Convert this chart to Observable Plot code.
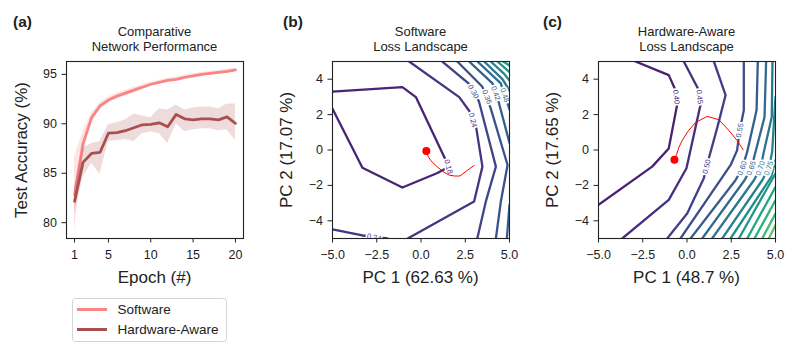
<!DOCTYPE html>
<html><head><meta charset="utf-8">
<script src="https://cdn.jsdelivr.net/npm/d3@7"></script>
<script src="https://cdn.jsdelivr.net/npm/@observablehq/plot@0.6"></script>
<style>
body{margin:0;background:#fff;}
#root{position:relative;width:797px;height:355px;overflow:hidden;background:#fff;font-family:"Liberation Sans",Arial,sans-serif;}
#root > svg{position:absolute;top:0;}
</style></head><body><div id="root"></div>
<script>
// ---------- data ----------
const epochs = [1,2,3,4,5,6,7,8,9,10,11,12,13,14,15,16,17,18,19,20];
const softwareAcc  = [82.8,88.0,90.6,91.8,92.4,92.8,93.1,93.4,93.7,94.0,94.2,94.4,94.5,94.7,94.85,95.0,95.1,95.2,95.3,95.45];
const softwareLow  = [79.0,86.8,90.1,91.5,92.1,92.5,92.8,93.1,93.45,93.8,94.0,94.2,94.3,94.5,94.65,94.8,94.9,95.0,95.1,95.25];
const softwareHigh = [86.7,89.2,91.1,92.1,92.7,93.1,93.4,93.7,93.95,94.2,94.4,94.6,94.7,94.9,95.05,95.2,95.3,95.4,95.5,95.65];
const hardwareAcc  = [82.15,86.1,87.0,87.1,89.05,89.1,89.3,89.6,89.9,89.95,90.1,89.7,90.95,90.5,90.4,90.5,90.5,90.4,90.7,90.05];
const hardwareLow  = [80.9,84.6,86.0,84.9,88.2,88.3,88.4,88.2,89.0,89.2,89.0,88.0,90.0,89.2,89.4,89.5,89.5,89.3,89.4,88.3];
const hardwareHigh = [83.6,87.5,88.0,88.2,89.9,90.1,90.4,91.0,90.8,90.6,91.5,91.4,91.9,91.4,91.6,91.7,91.7,91.5,92.0,92.0];

const seriesNames  = ["Software", "Hardware-Aware"];
const seriesColors = ["#f98585", "#a85050"];

const panelLetters = ["(a)", "(b)", "(c)"];
const panelTitles  = [["Comparative","Network Performance"],["Software","Loss Landscape"],["Hardware-Aware","Loss Landscape"]];
const xLabels = ["Epoch (#)", "PC 1 (62.63 %)", "PC 1 (48.7 %)"];
const yLabels = ["Test Accuracy (%)", "PC 2 (17.07 %)", "PC 2 (17.65 %)"];

const epochTicks = [1,5,10,15,20];
const accTicks   = [80,85,90,95];
const pcTicksX   = [-5,-2.5,0,2.5,5];
const pcTicksY   = [-4,-2,0,2,4];

// contour polylines (PC1, PC2)
const swContours = [
  {level:0.18, path:[[-5,3.30],[-1.05,3.55],[-0.29,2.99],[1.40,-0.58],[1.55,-0.96],[0.93,-1.30],[-1.05,-2.12],[-3.31,-1.0],[-5,2.33]]},
  {level:0.24, path:[[-0.67,5],[2.16,2.99],[2.72,2.22],[3.12,1.25],[3.47,-0.94],[3.0,-2.91],[-0.75,-5]]},
  {level:0.24, path:[[-5,-4.49],[-3.31,-4.83],[-1.9,-5]]},
  {level:0.30, path:[[1.2,5],[2.72,3.74],[3.28,2.73],[4.23,-0.94],[3.66,-2.92],[3.18,-5]]},
  {level:0.36, path:[[2.05,5],[3.47,3.57],[3.94,2.35],[4.89,-0.85],[4.51,-2.92],[4.23,-5]]},
  {level:0.42, path:[[2.72,5],[4.04,3.76],[4.41,2.63],[5,0.4]]},
  {level:0.42, path:[[5,-3.1],[4.85,-5]]},
  {level:0.48, path:[[3.19,5],[4.51,3.76],[5,2.3]]},
  {level:0.54, path:[[3.57,5],[4.6,4.0],[5,3.36]]},
  {level:0.60, path:[[3.94,5],[4.7,4.3],[5,3.92]]},
  {level:0.66, path:[[4.32,5],[5,4.40]]},
  {level:0.72, path:[[4.64,5],[5,4.78]]}
];
const swContourLabels = [
  {level:0.18, x:1.55, y:-0.94, angle:75},
  {level:0.24, x:2.93, y:1.69, angle:76},
  {level:0.30, x:2.96, y:3.30, angle:62},
  {level:0.36, x:3.72, y:3.00, angle:68},
  {level:0.42, x:4.22, y:3.20, angle:70},
  {level:0.48, x:4.73, y:3.10, angle:72},
  {level:0.24, x:-2.65, y:-4.94, angle:12}
];
const hwContours = [
  {level:0.40, path:[[-2.91,5],[-1.03,4.23],[-0.65,3.38],[-0.56,2.54],[-1.03,0.09],[-1.97,-0.94],[-5,-3.10]]},
  {level:0.45, path:[[-0.18,5],[0.67,3.38],[0.76,2.54],[-0.03,-1.03],[-1.03,-2.82],[-3.66,-5]]},
  {level:0.50, path:[[1.52,5],[2.18,3.10],[1.70,1.22],[1.23,-0.47],[0.95,-1.60],[0.01,-3.59],[-1.12,-5]]},
  {level:0.55, path:[[3.21,5],[3.21,2.24],[2.98,1.11],[2.83,-0.02],[2.46,-0.86],[-0.37,-5]]},
  {level:0.60, path:[[4.0,5],[3.93,2.24],[3.40,-0.11],[3.12,-1.03],[2.74,-1.71],[0.20,-5]]},
  {level:0.65, path:[[4.47,5],[4.38,1.86],[3.87,-0.11],[3.63,-1.03],[3.25,-1.71],[0.86,-5]]},
  {level:0.70, path:[[4.83,5],[4.79,1.86],[4.34,-0.11],[4.15,-1.03],[3.78,-1.71],[1.42,-5]]},
  {level:0.75, path:[[5,2.99],[4.81,-0.11],[4.62,-1.03],[4.25,-1.71],[1.99,-5]]},
  {level:0.80, path:[[5,-0.58],[4.76,-1.52],[2.46,-5]]},
  {level:0.85, path:[[5,-1.33],[2.93,-5]]},
  {level:0.90, path:[[5,-2.09],[3.40,-5]]},
  {level:0.95, path:[[5,-2.84],[3.81,-5]]},
  {level:1.00, path:[[5,-3.59],[4.25,-5]]},
  {level:1.05, path:[[5,-4.25],[4.62,-5]]}
];
const hwContourLabels = [
  {level:0.40, x:-0.61, y:3.0, angle:84},
  {level:0.45, x:0.71, y:3.0, angle:84},
  {level:0.50, x:1.11, y:-0.94, angle:-76},
  {level:0.55, x:2.98, y:1.11, angle:-80},
  {level:0.60, x:3.12, y:-1.03, angle:-70},
  {level:0.65, x:3.63, y:-1.03, angle:-70},
  {level:0.70, x:4.15, y:-1.03, angle:-70},
  {level:0.75, x:4.62, y:-1.03, angle:-70}
];
const swTrajectory = [[0.3,-0.06],[0.37,-0.3],[0.55,-0.6],[0.93,-0.96],[1.25,-1.22],[1.59,-1.42],[1.9,-1.47],[2.2,-1.47],[2.55,-1.2],[3.0,-0.87]];
const hwTrajectory = [[-0.71,-0.55],[-0.59,-0.25],[-0.45,0.17],[-0.27,0.54],[0.05,1.05],[0.48,1.55],[1.14,1.90],[1.80,1.71],[2.36,1.11],[2.83,0.54],[3.17,0.02]];

// ---------- helpers ----------
const FONT = "'Liberation Sans', Arial, sans-serif";
const INK = "#222";
const root = document.getElementById("root");
const place = (svg, left) => { svg.style.left = left + "px"; root.appendChild(svg); };
const baseStyle = {fontFamily: FONT, background: "transparent", overflow: "visible", color: INK};

function rowsOf(contours) {
  const rows = [];
  contours.forEach((c, i) => c.path.forEach(([x, y]) => rows.push({id: i, level: c.level, x, y})));
  return rows;
}
const trajRows = t => t.map(([x, y]) => ({x, y}));

// ---------- panel (a) ----------
const swRows = epochs.map((e, i) => ({e, m: softwareAcc[i], lo: softwareLow[i], hi: softwareHigh[i]}));
const hwRows = epochs.map((e, i) => ({e, m: hardwareAcc[i], lo: hardwareLow[i], hi: hardwareHigh[i]}));

const plotA = Plot.plot({
  width: 265, height: 300,
  marginLeft: 66, marginRight: 22, marginTop: 61, marginBottom: 62,
  style: baseStyle,
  x: {domain: [0.05, 20.95]},
  y: {domain: [78.4, 96.3]},
  marks: [
    Plot.areaY(swRows, {x: "e", y1: "lo", y2: "hi", fill: seriesColors[0], fillOpacity: 0.22}),
    Plot.line(swRows, {x: "e", y: "m", stroke: seriesColors[0], strokeWidth: 2.8}),
    Plot.areaY(hwRows, {x: "e", y1: "lo", y2: "hi", fill: seriesColors[1], fillOpacity: 0.2}),
    Plot.line(hwRows, {x: "e", y: "m", stroke: seriesColors[1], strokeWidth: 2.8}),
    Plot.axisX({ticks: epochTicks, tickFormat: d3.format("d"), tickSize: 4.5, tickPadding: 7, fontSize: 12.5, label: null, stroke: INK}),
    Plot.axisY({ticks: accTicks, tickFormat: d3.format("d"), tickSize: 4.5, tickPadding: 5, fontSize: 12.5, label: null, stroke: INK}),
    Plot.frame({stroke: INK, strokeWidth: 1.1})
  ]
});
place(plotA, 0);

// ---------- panels (b), (c) ----------
function landscape(contours, labels, traj, colorDomain, left, ml, mr, w) {
  const t = trajRows(traj);
  return place(Plot.plot({
    width: w, height: 300,
    marginLeft: ml, marginRight: mr, marginTop: 61, marginBottom: 62,
    style: baseStyle,
    x: {domain: [-5, 5]},
    y: {domain: [-5, 5]},
    color: {type: "linear", scheme: "viridis", domain: colorDomain},
    marks: [
      Plot.line(rowsOf(contours), {x: "x", y: "y", z: "id", stroke: "level", strokeWidth: 2.3, clip: true}),
      Plot.text(labels, {x: "x", y: "y", text: d => d3.format(".2f")(d.level), rotate: "angle", fill: "level",
        stroke: "white", strokeWidth: 3.5, paintOrder: "stroke", fontSize: 7.5, clip: true}),
      Plot.line(t, {x: "x", y: "y", stroke: "red", strokeWidth: 1}),
      Plot.dot(t.slice(0, 1), {x: "x", y: "y", r: 4, fill: "red", stroke: "none"}),
      Plot.axisX({ticks: pcTicksX, tickFormat: d3.format(".1f"), tickSize: 4.5, tickPadding: 7, fontSize: 12.5, label: null, stroke: INK}),
      Plot.axisY({ticks: pcTicksY, tickFormat: d3.format("d"), tickSize: 4.5, tickPadding: 5, fontSize: 12.5, label: null, stroke: INK}),
      Plot.frame({stroke: INK, strokeWidth: 1.1})
    ]
  }), left);
}
landscape(swContours, swContourLabels, swTrajectory, [0.06, 1.26], 265, 67, 21, 265);
landscape(hwContours, hwContourLabels, hwTrajectory, [0.31, 1.31], 530, 68, 22, 267);

// ---------- text overlay: titles, labels, legend ----------
const ov = d3.select(root).append("svg")
  .attr("width", 797).attr("height", 355)
  .style("left", "0px").style("font-family", FONT).style("fill", INK);

const frameCenters = [154.5, 420.5, 686.5];
const letterX = [13, 283, 543];
const yLabelX = [26.5, 291.5, 558];

panelLetters.forEach((t, i) => ov.append("text").attr("x", letterX[i]).attr("y", 27)
  .attr("font-size", 15.5).attr("font-weight", "bold").text(t));
panelTitles.forEach((lines, i) => lines.forEach((t, j) => ov.append("text")
  .attr("x", frameCenters[i]).attr("y", 36 + 15 * j).attr("text-anchor", "middle")
  .attr("font-size", 13).text(t)));
xLabels.forEach((t, i) => ov.append("text").attr("x", frameCenters[i]).attr("y", 283)
  .attr("text-anchor", "middle").attr("font-size", 17).text(t));
yLabels.forEach((t, i) => ov.append("text")
  .attr("transform", `translate(${yLabelX[i]},150) rotate(-90)`)
  .attr("text-anchor", "middle").attr("font-size", 17).text(t));

// legend
const lg = ov.append("g");
lg.append("rect").attr("x", 72.5).attr("y", 298.5).attr("width", 154).attr("height", 43)
  .attr("rx", 3).attr("fill", "white").attr("stroke", "#d4d4d4").attr("stroke-width", 1);
seriesNames.forEach((name, i) => {
  const cy = 309.5 + 20 * i;
  lg.append("line").attr("x1", 77).attr("x2", 107).attr("y1", cy).attr("y2", cy)
    .attr("stroke", seriesColors[i]).attr("stroke-width", 3);
  lg.append("text").attr("x", 117.5).attr("y", cy + 4.8).attr("font-size", 13.5).text(name);
});
</script>
</body></html>
